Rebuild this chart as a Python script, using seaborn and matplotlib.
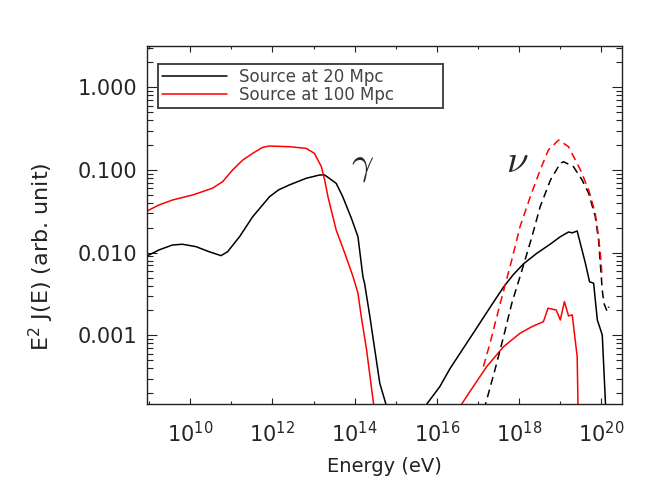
import numpy as np
import pandas as pd
import seaborn as sns
import matplotlib.pyplot as plt
from matplotlib import ticker

# values, stored as log10(E / eV) and log10(E^2 J)
gamma_20_logE = [8.92, 9.24, 9.57, 9.81, 10.14, 10.46, 10.75, 10.91, 11.20, 11.52, 11.93,
                 12.15, 12.41, 12.82, 13.15, 13.27, 13.55, 13.71, 13.92, 14.08, 14.20, 14.24,
                 14.37, 14.49, 14.61, 14.76, 14.80]
gamma_20_logJ = [-2.048, -1.967, -1.907, -1.898, -1.927, -1.988, -2.036, -1.988, -1.807, -1.565, -1.323,
                 -1.240, -1.181, -1.100, -1.060, -1.060, -1.161, -1.323, -1.584, -1.807, -2.290, -2.370,
                 -2.774, -3.177, -3.579, -3.833, -4.02]

gamma_100_logE = [8.92, 9.24, 9.57, 10.06, 10.54, 10.79, 11.03, 11.28, 11.52, 11.76, 11.93,
                  12.41, 12.82, 13.02, 13.19, 13.27, 13.35, 13.55, 13.76, 13.96, 14.08,
                  14.16, 14.29, 14.46, 14.51]
gamma_100_logJ = [-1.504, -1.423, -1.363, -1.302, -1.221, -1.141, -1.000, -0.879, -0.798, -0.726, -0.710,
                  -0.718, -0.738, -0.798, -0.960, -1.121, -1.323, -1.726, -2.007, -2.290, -2.491,
                  -2.774, -3.177, -3.833, -4.02]

nu_20_logE = [15.57, 15.75, 16.07, 16.32, 16.93, 17.29, 17.62, 17.85, 18.10, 18.43, 18.76, 19.00,
              19.20, 19.29, 19.41, 19.61, 19.71, 19.81, 19.90, 20.02, 20.10, 20.105]
nu_20_logJ = [-3.95, -3.833, -3.620, -3.400, -2.938, -2.663, -2.415, -2.270, -2.137, -2.007, -1.895, -1.807,
              -1.750, -1.760, -1.738, -2.128, -2.351, -2.370, -2.814, -2.995, -3.842, -4.02]

nu_100_logE = [16.45, 16.60, 16.80, 17.21, 17.62, 18.02, 18.31, 18.59, 18.70, 18.90, 19.00,
               19.10, 19.20, 19.29, 19.41, 19.43, 19.432]
nu_100_logJ = [-3.95, -3.833, -3.681, -3.378, -3.137, -2.975, -2.895, -2.834, -2.672, -2.693, -2.814,
               -2.592, -2.765, -2.753, -3.258, -3.842, -4.02]

# dashed curves
nu_20_d_logE = [17.14, 17.21, 17.41, 17.62, 17.82, 18.07, 18.31, 18.51, 18.76, 19.00, 19.08,
                19.32, 19.53, 19.69, 19.85, 19.93, 20.02, 20.06, 20.14, 20.18]
nu_20_d_logJ = [-3.90, -3.781, -3.418, -3.016, -2.612, -2.209, -1.807, -1.444, -1.121, -0.919, -0.900,
                -0.960, -1.121, -1.282, -1.565, -1.846, -2.451, -2.612, -2.713, -2.653]

nu_100_d_logE = [17.13, 17.29, 17.54, 17.82, 18.02, 18.27, 18.51, 18.71, 18.96, 19.20, 19.49,
                 19.69, 19.85, 19.93, 19.98, 20.02]
nu_100_d_logJ = [-3.378, -3.096, -2.612, -2.088, -1.686, -1.323, -1.000, -0.758, -0.637, -0.718, -1.000,
                 -1.242, -1.524, -1.807, -2.048, -2.310]

x_major_exp = [10, 12, 14, 16, 18, 20]
x_minor_exp = [9, 11, 13, 15, 17, 19]
y_major = [0.001, 0.010, 0.100, 1.000]

sns.set_style("ticks")
plt.rcParams['font.family'] = ['DejaVu Sans']
plt.rcParams['axes.linewidth'] = 1.0
plt.rcParams['axes.edgecolor'] = '#222222'

fig = plt.figure(figsize=(6.64, 4.99), dpi=100)
ax = fig.add_axes([147 / 664, (499 - 404.3) / 499, 475 / 664, 358.3 / 499])

curves = [
    (gamma_20_logE, gamma_20_logJ, 'black', '-', 'Source at 20 Mpc'),
    (gamma_100_logE, gamma_100_logJ, 'red', '-', 'Source at 100 Mpc'),
    (nu_20_logE, nu_20_logJ, 'black', '-', None),
    (nu_100_logE, nu_100_logJ, 'red', '-', None),
    (nu_20_d_logE, nu_20_d_logJ, 'black', (0, (5.2, 3.3)), None),
    (nu_100_d_logE, nu_100_d_logJ, 'red', (0, (5.2, 3.3)), None),
]
for lx, ly, col, ls, lab in curves:
    df = pd.DataFrame({'E': np.power(10.0, lx), 'J': np.power(10.0, ly)})
    sns.lineplot(data=df, x='E', y='J', sort=False, estimator=None, color=col,
                 linestyle=ls, linewidth=1.1, label=lab, ax=ax, legend=False)

ax.set_xscale('log')
ax.set_yscale('log')
ax.set_xlim(10**8.95, 10**20.5)
ax.set_ylim(10**-3.834, 10**0.5)

ax.xaxis.set_major_locator(ticker.FixedLocator([10.0**e for e in x_major_exp]))
ax.xaxis.set_minor_locator(ticker.FixedLocator([10.0**e for e in x_minor_exp]))
ax.xaxis.set_major_formatter(ticker.FuncFormatter(
    lambda v, p: r'$\mathdefault{10^{%d}}$' % int(round(np.log10(v)))))
ax.xaxis.set_minor_formatter(ticker.NullFormatter())

ax.yaxis.set_major_locator(ticker.FixedLocator(y_major))
ax.yaxis.set_minor_locator(ticker.LogLocator(base=10, subs=np.arange(2, 10)))
ax.yaxis.set_major_formatter(ticker.FuncFormatter(lambda v, p: '%.3f' % v))
ax.yaxis.set_minor_formatter(ticker.NullFormatter())

ax.tick_params(which='both', direction='in', top=True, right=True, color='#222222', width=0.8)
ax.tick_params(axis='x', which='major', length=4.5, pad=12, labelsize=15)
ax.tick_params(axis='x', which='minor', length=2.2)
ax.tick_params(axis='y', which='major', length=7.5, pad=7, labelsize=15)
ax.tick_params(axis='y', which='minor', length=4)
for s in ax.spines.values():
    s.set_visible(True)

ax.set_xlabel('Energy (eV)', fontsize=14, color='#222222')
ax.set_ylabel(r'$\mathdefault{E^2}$ J(E) (arb. unit)', fontsize=16, color='#222222')
ax.xaxis.set_label_coords(0.5, -0.147)
ax.yaxis.set_label_coords(-0.192, 0.413)

ax.text(10**14.2, 10**-0.94, r'$\gamma$', fontsize=28, math_fontfamily='cm',
        ha='center', va='center')
ax.text(10**17.95, 10**-0.89, r'$\nu$', fontsize=28, math_fontfamily='cm',
        ha='center', va='center')

leg = ax.legend(loc='upper left', bbox_to_anchor=(0.0232, 0.0, 0.6, 0.9498), mode='expand',
                borderaxespad=0, fontsize=12, frameon=True, fancybox=False, framealpha=1,
                edgecolor='#444444', handlelength=3.9, handletextpad=0.7, labelspacing=0.0,
                borderpad=0.25)
leg.get_frame().set_linewidth(1.4)
for t in leg.get_texts():
    t.set_color('#444444')

fig.savefig('out.png', dpi=100)
